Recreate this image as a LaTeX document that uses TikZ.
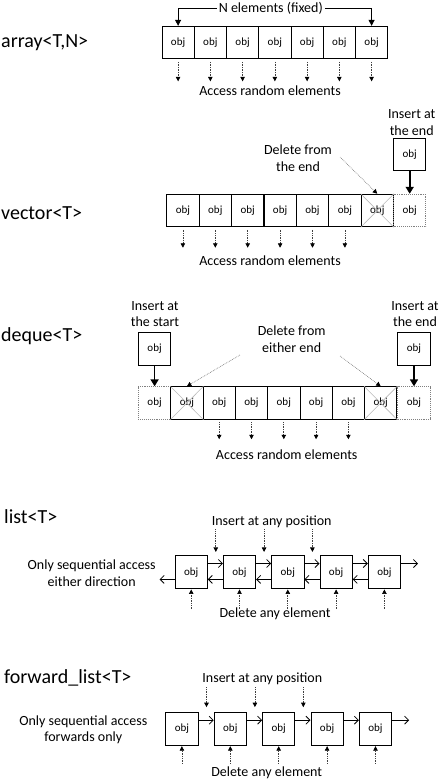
\documentclass[tikz,border=0pt]{standalone}
\usepackage{fontspec}
\setmainfont{Carlito}
\usetikzlibrary{arrows.meta, positioning}

\begin{document}
\begin{tikzpicture}[x=1pt, y=-1pt,
        cell/.style={draw, line width=0.9pt, minimum width=32.3pt, minimum height=32.6pt, inner sep=0pt, font=\fontsize{11}{12}\selectfont},
        ghost/.style={cell, draw=gray, densely dotted, line width=0.8pt},
        title/.style={anchor=west, inner sep=0pt, font=\fontsize{20}{24}\selectfont},
        note/.style={align=center, inner sep=1pt, font=\fontsize{14}{16.5}\selectfont},
        dotarrow/.style={densely dotted, gray!50!black, line width=0.7pt, -{Triangle[black, length=4.5pt, width=4.5pt]}},
        bracearrow/.style={line width=0.9pt, -{Triangle[length=6pt, width=6pt]}},
        pusharrow/.style={line width=1.6pt, -{Triangle[length=7pt, width=8pt]}},
        link/.style={line width=0.8pt, -{Straight Barb[length=4pt, width=8pt]}},
        cross/.style={gray!55, line width=0.6pt}
    ]
        \useasboundingbox (0,0) rectangle (440,780);

        % array<T,N>
        \node[title] (tarray) at (1,43) {array<T,N>};
        \foreach \i in {0,...,6}
            \node[cell] (a\i) at ({178.1+32.25*\i}, 42.6) {obj};
        \node[note, fill=white, inner sep=2pt] (afixed) at (270.8, 8) {N elements (fixed)};
        \draw[bracearrow] (afixed.west) -| (a0.north);
        \draw[bracearrow] (afixed.east) -| (a6.north);
        \foreach \i in {0,...,6}
            \draw[dotarrow] ([yshift=-2.5pt]a\i.south) -- ([yshift=-22pt]a\i.south);
        \node[note] (aaccess) at (270, 91) {Access random elements};

        % vector<T>
        \node[title] (tvector) at (1,213) {vector<T>};
        \foreach \i in {0,...,6}
            \node[cell] (v\i) at ({182.9+32.4*\i}, 210.5) {obj};
        \node[ghost] (v7) at ({182.9+32.4*7}, 210.5) {obj};
        \draw[cross] (v6.north west) -- (v6.south east) (v6.north east) -- (v6.south west);
        \node[cell, above=22.6pt of v7] (vpush) {obj};
        \draw[pusharrow] (vpush.south) -- (v7.north);
        \node[note] (vpushtxt) at (411.7, 122.5) {Insert at\\the end};
        \node[note] (vpoptxt) at (298, 158) {Delete from\\the end};
        \coordinate (vpop) at (340, 157);
        \draw[dotarrow, gray] (vpop) -- (v6.north);
        \foreach \i in {0,...,5}
            \draw[dotarrow] ([yshift=-2.5pt]v\i.south) -- ([yshift=-20.5pt]v\i.south);
        \node[note] (vaccess) at (270, 261) {Access random elements};

        % deque<T>
        \node[title] (tdeque) at (1,336) {deque<T>};
        \node[ghost] (d0) at (154.6, 403) {obj};
        \foreach \i in {1,...,7}
            \node[cell] (d\i) at ({154.6+32.3*\i}, 403) {obj};
        \node[ghost] (d8) at ({154.6+32.3*8+1}, 403) {obj};
        \draw[cross] (d1.north west) -- (d1.south east) (d1.north east) -- (d1.south west);
        \draw[cross] (d7.north west) -- (d7.south east) (d7.north east) -- (d7.south west);
        \node[cell, above=20.5pt of d0] (dfront) {obj};
        \node[cell, above=20.5pt of d8] (dback) {obj};
        \draw[pusharrow] (dfront.south) -- (d0.north);
        \draw[pusharrow] (dback.south) -- (d8.north);
        \node[note] (dfronttxt) at (155, 314) {Insert at\\the start};
        \node[note] (dbacktxt) at (415, 314) {Insert at\\the end};
        \node[note] (dpoptxt) at (291.7, 339) {Delete from\\either end};
        \coordinate (dpopl) at (240, 355);
        \coordinate (dpopr) at (340, 356);
        \draw[dotarrow, gray] (dpopl) -- (d1.north);
        \draw[dotarrow, gray] (dpopr) -- (d7.north);
        \foreach \i in {2,...,6}
            \draw[dotarrow] ([yshift=-2.5pt]d\i.south) -- ([yshift=-19.5pt]d\i.south);
        \node[note] (daccess) at (286.7, 455) {Access random elements};

        % list<T>
        \node[title] (tlist) at (4,517) {list<T>};
        \foreach \i in {0,...,4}
            \node[cell] (l\i) at ({191.2+48.3*\i}, 572.2) {obj};
        \foreach \i/\j in {0/1,1/2,2/3,3/4} {
            \draw[link] ([yshift=8.7pt]l\i.east) -- ([yshift=8.7pt]l\j.west);
            \draw[link] ([yshift=-7.2pt]l\j.west) -- ([yshift=-7.2pt]l\i.east);
        }
        \foreach \i in {0,1,2}
            \draw[dotarrow] ([xshift=8pt,yshift=26pt]l\i.north east) -- ([xshift=8pt,yshift=3.5pt]l\i.north east);
        \coordinate (lout) at ([xshift=17pt,yshift=8.7pt]l4.east);
        \coordinate (lback) at ([xshift=-15pt,yshift=-7.2pt]l0.west);
        \draw[link] ([yshift=8.7pt]l4.east) -- (lout);
        \draw[link] ([yshift=-7.2pt]l0.west) -- (lback);
        \foreach \i in {0,...,4}
            \draw[dotarrow] ([yshift=-20pt]l\i.south) -- ([yshift=-0.5pt]l\i.south);
        \node[note] (linstxt) at (271.7, 521.5) {Insert at any position};
        \node[note] (ldeltxt) at (275, 613.5) {Delete any element};
        \node[note] (lseqtxt) at (91.7, 573) {Only sequential access\\either direction};

        % forward_list<T>
        \node[title] (tflist) at (4,678) {forward\_list<T>};
        \foreach \i in {0,...,4}
            \node[cell] (f\i) at ({181.9+48.4*\i}, 728.9) {obj};
        \foreach \i/\j in {0/1,1/2,2/3,3/4}
            \draw[link] ([yshift=8.7pt]f\i.east) -- ([yshift=8.7pt]f\j.west);
        \foreach \i in {0,1,2}
            \draw[dotarrow] ([xshift=8pt,yshift=25pt]f\i.north east) -- ([xshift=8pt,yshift=5pt]f\i.north east);
        \coordinate (fout) at ([xshift=17pt,yshift=8.7pt]f4.east);
        \draw[link] ([yshift=8.7pt]f4.east) -- (fout);
        \foreach \i in {0,...,4}
            \draw[dotarrow] ([yshift=-18pt]f\i.south) -- ([yshift=-0.5pt]f\i.south);
        \node[note] (finstxt) at (262.3, 678.3) {Insert at any position};
        \node[note] (fdeltxt) at (266.7, 773) {Delete any element};
        \node[note] (fseqtxt) at (83.3, 730) {Only sequential access\\forwards only};

    \end{tikzpicture}
\end{document}
